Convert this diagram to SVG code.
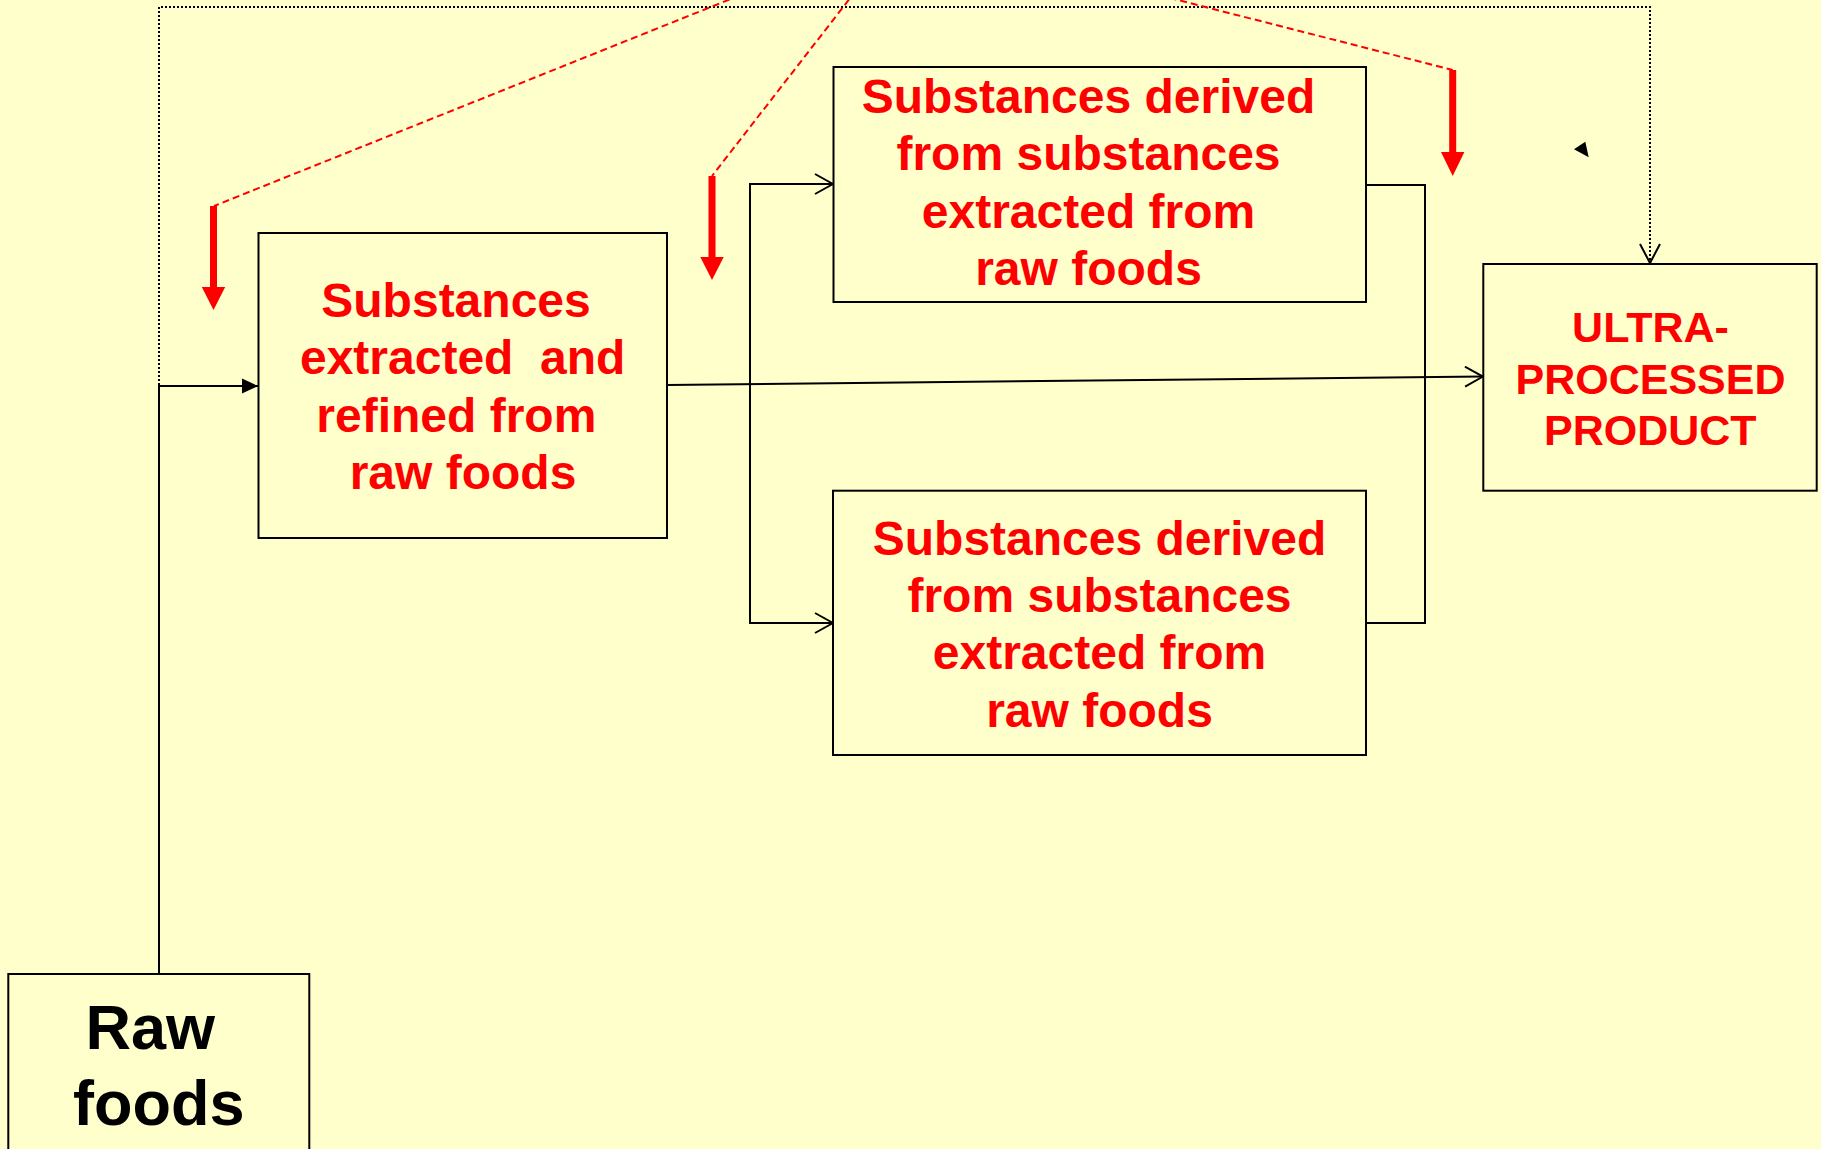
<svg xmlns="http://www.w3.org/2000/svg" width="1821" height="1149" viewBox="0 0 1821 1149">
  <defs>
    <style>
      .box { fill: #FFFFCC; stroke: #000; stroke-width: 2; }
      .lbl { font-family: "Liberation Sans", Arial, sans-serif; font-weight: bold; fill: #FF0000; text-anchor: middle; }
      .lbl48 { font-size: 48px; }
      .lbl43 { font-size: 43px; }
      .raw { font-family: "Liberation Sans", Arial, sans-serif; font-weight: bold; fill: #000; text-anchor: middle; font-size: 63px; }
      .conn { fill: none; stroke: #000; stroke-width: 2; }
      .dot { fill: none; stroke: #000; stroke-width: 2; stroke-dasharray: 2 2; }
      .rdash { fill: none; stroke: #FF0000; stroke-width: 2; stroke-dasharray: 7 4; }
      .rarrow { fill: #FF0000; }
    </style>
    <marker id="open" viewBox="0 0 20 22" refX="19" refY="11" markerWidth="20" markerHeight="22" markerUnits="userSpaceOnUse" orient="auto">
      <path d="M1,1 L19,11 L1,21" fill="none" stroke="#000" stroke-width="2"/>
    </marker>
    <marker id="solid" viewBox="0 0 16 16" refX="16" refY="8" markerWidth="16" markerHeight="16" markerUnits="userSpaceOnUse" orient="auto">
      <path d="M0,0.5 L16,8 L0,15.5 Z" fill="#000"/>
    </marker>
  </defs>

  <rect x="0" y="0" width="1821" height="1149" fill="#FFFFCC"/>

  <!-- connectors -->
  <g id="connectors">
    <!-- dotted bypass from raw foods straight to the final product -->
    <path class="dot" d="M159,385 V7 H1650 V262" />
    <path d="M1640,244 L1650,263 L1660,244" fill="none" stroke="#000" stroke-width="2"/>
    <!-- raw foods up to extraction -->
    <path class="conn" d="M159,974 V386 H258" marker-end="url(#solid)"/>
    <!-- extraction straight to the product -->
    <path class="conn" d="M667,385 L1483,376.5" marker-end="url(#open)"/>
    <!-- branch to the two derived boxes -->
    <path class="conn" d="M833,184 H750 V623 H833"/>
    <path class="conn" d="M750,184 H833" marker-end="url(#open)"/>
    <path class="conn" d="M750,623 H833" marker-end="url(#open)"/>
    <!-- derived boxes rejoin -->
    <path class="conn" d="M1366,185 H1425 V623 H1366"/>
    <!-- small stray arrowhead -->
    <path d="M1574,149.3 L1585.3,141.7 L1588.7,157.3 Z" fill="#000"/>
  </g>

  <!-- red pointers coming down from above -->
  <g id="pointers">
    <path class="rdash" d="M903,-70 L214,206"/>
    <path class="rdash" d="M903,-70 L712,176"/>
    <path class="rdash" d="M903,-70 L1452.7,70"/>
    <path class="rarrow" d="M210,206 H217 V287 H225.2 L213.5,310 L201.8,287 H210 Z"/>
    <path class="rarrow" d="M708.5,176 H715.5 V257 H723.7 L712,280 L700.3,257 H708.5 Z"/>
    <path class="rarrow" d="M1449.2,70 H1456.2 V152 H1464.4 L1452.7,176 L1441,152 H1449.2 Z"/>
  </g>

  <g id="raw-foods">
    <rect class="box" x="8.3" y="974" width="301" height="200"/>
    <text class="raw" x="150.3" y="1049">Raw</text>
    <text class="raw" x="158.8" y="1125">foods</text>
  </g>

  <g id="extracted">
    <rect class="box" x="258.5" y="233" width="408.5" height="305"/>
    <text class="lbl lbl48" x="456" y="316.7">Substances</text>
    <text class="lbl lbl48" x="462.7" y="374.3" xml:space="preserve">extracted  and</text>
    <text class="lbl lbl48" x="456.3" y="431.7">refined from</text>
    <text class="lbl lbl48" x="463" y="489.3">raw foods</text>
  </g>

  <g id="derived-top">
    <rect class="box" x="833.5" y="67" width="532.5" height="235"/>
    <text class="lbl lbl48" x="1088.5" y="113.3">Substances derived</text>
    <text class="lbl lbl48" x="1088.5" y="170">from substances</text>
    <text class="lbl lbl48" x="1088.5" y="228.3">extracted from</text>
    <text class="lbl lbl48" x="1088.5" y="285">raw foods</text>
  </g>

  <g id="derived-bottom">
    <rect class="box" x="833" y="490.7" width="533" height="264.3"/>
    <text class="lbl lbl48" x="1099.5" y="555">Substances derived</text>
    <text class="lbl lbl48" x="1099.5" y="611.7">from substances</text>
    <text class="lbl lbl48" x="1099.5" y="669.3">extracted from</text>
    <text class="lbl lbl48" x="1099.5" y="726.7">raw foods</text>
  </g>

  <g id="ultra-processed">
    <rect class="box" x="1483.3" y="264" width="333.4" height="226.7"/>
    <text class="lbl lbl43" x="1650.5" y="341.7">ULTRA-</text>
    <text class="lbl lbl43" x="1650.5" y="394">PROCESSED</text>
    <text class="lbl lbl43" x="1650.3" y="445">PRODUCT</text>
  </g>
</svg>
